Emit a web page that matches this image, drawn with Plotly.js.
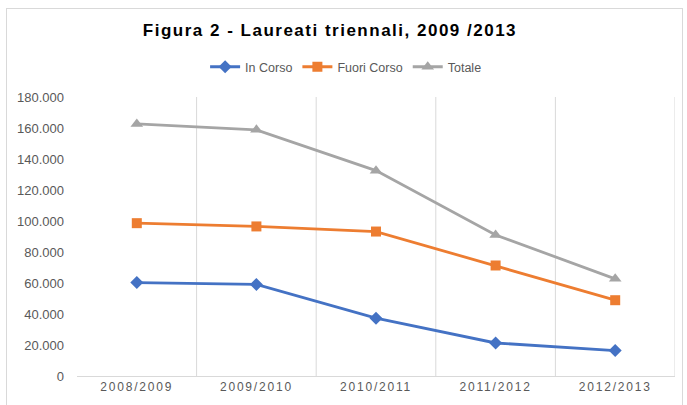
<!DOCTYPE html>
<html>
<head>
<meta charset="utf-8">
<script src="https://cdn.plot.ly/plotly-3.0.1.min.js"></script>
<style>
  html, body { margin: 0; padding: 0; background: #fff; }
  #wrap { position: relative; width: 687px; height: 405px; overflow: hidden; }
  #chart { width: 687px; height: 405px; }
  #frame { position: absolute; left: 6px; top: 8px; width: 675px; height: 410px; border: 1px solid #d9d9d9; pointer-events: none; }
  .gtitle { letter-spacing: 1.5px; }
  .xtick text { letter-spacing: 1.8px; }
</style>
</head>
<body>
<div id="wrap">
  <div id="chart"></div>
  <div id="frame"></div>
</div>
<script>
const categories = ["2008/2009", "2009/2010", "2010/2011", "2011/2012", "2012/2013"];
const inCorso    = [60300, 59100, 37300, 21300, 16400];
const fuoriCorso = [98600, 96500, 93200, 71300, 48900];
const totale     = [162600, 158800, 132500, 91000, 62700];
const yTicks = [0, 20000, 40000, 60000, 80000, 100000, 120000, 140000, 160000, 180000];

const xIdx = categories.map((c, i) => i);

const traces = [
  { name: "In Corso", x: xIdx, y: inCorso, type: "scatter", mode: "lines+markers",
    line: { color: "#4472C4", width: 2.8 }, marker: { symbol: "diamond", size: 10, color: "#4472C4" } },
  { name: "Fuori Corso", x: xIdx, y: fuoriCorso, type: "scatter", mode: "lines+markers",
    line: { color: "#ED7D31", width: 2.8 }, marker: { symbol: "square", size: 10, color: "#ED7D31" } },
  { name: "Totale", x: xIdx, y: totale, type: "scatter", mode: "lines+markers",
    line: { color: "#A5A5A5", width: 2.8 }, marker: { symbol: "triangle-up", size: 11, color: "#A5A5A5" } }
];

const shapes = categories.map((c, i) => ({
  type: "line", xref: "x", yref: "paper", x0: i + 0.5, x1: i + 0.5, y0: 0, y1: 1,
  line: { color: "#d9d9d9", width: 1 }, layer: "below"
}));

const layout = {
  width: 687, height: 405,
  margin: { l: 77, r: 12, t: 97, b: 29, pad: 0 },
  paper_bgcolor: "#ffffff", plot_bgcolor: "#ffffff",
  separators: ",.",
  font: { family: "Liberation Sans, Arial, sans-serif", size: 13, color: "#595959" },
  title: { text: "<b>Figura 2 - Laureati triennali, 2009 /2013</b>",
    font: { family: "Liberation Sans, Arial, sans-serif", size: 17, color: "#000000" },
    x: 0.423, xref: "paper", xanchor: "center", y: 0.925, yanchor: "middle" },
  showlegend: true,
  legend: { orientation: "h", x: 0.45, xanchor: "center", y: 1.107, yanchor: "middle",
    font: { size: 12.5, color: "#595959" }, itemwidth: 30, tracegroupgap: 0 },
  xaxis: { range: [-0.5, 4.5], tickmode: "array", tickvals: xIdx, ticktext: categories,
    showgrid: false, zeroline: false, showline: true, linecolor: "#d9d9d9", linewidth: 1,
    ticks: "", tickfont: { size: 12, color: "#595959" }, fixedrange: true },
  yaxis: { range: [0, 180000], tickmode: "array", tickvals: yTicks, tickformat: ",d",
    showgrid: false, zeroline: false, showline: false, ticks: "",
    ticklabelstandoff: 12, tickfont: { size: 13, color: "#595959" }, fixedrange: true },
  shapes: shapes
};

Plotly.newPlot("chart", traces, layout, { displayModeBar: false, staticPlot: true });
</script>
</body>
</html>
